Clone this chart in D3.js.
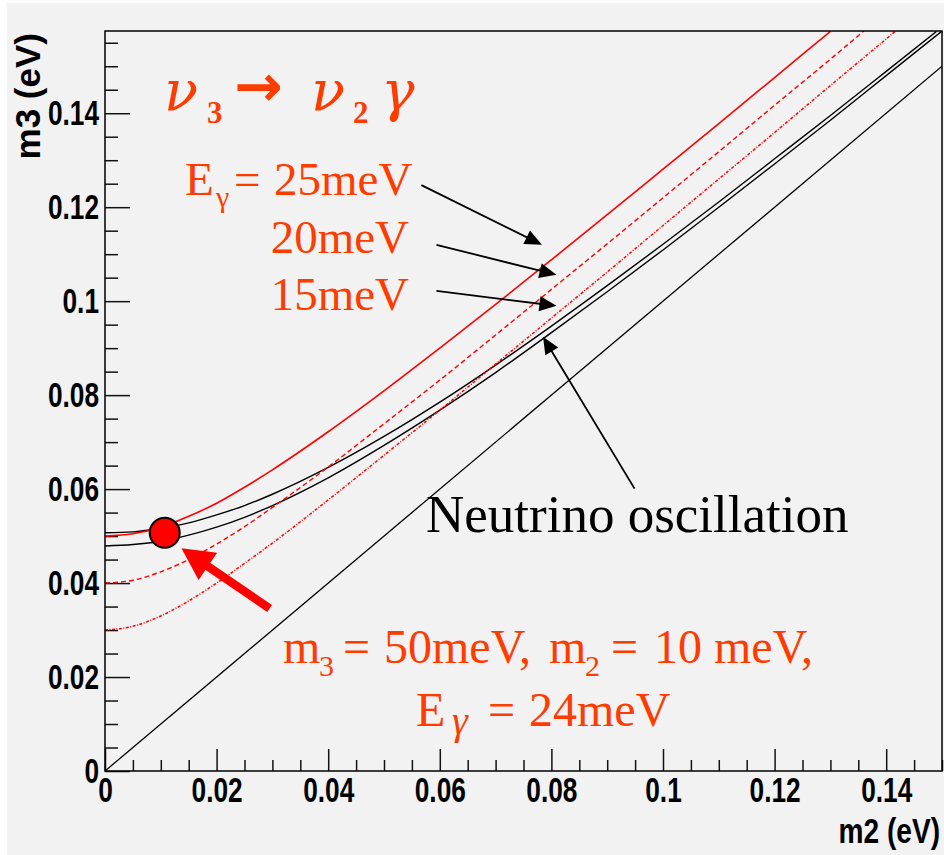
<!DOCTYPE html>
<html>
<head>
<meta charset="utf-8">
<script src="https://d3js.org/d3.v7.min.js"></script>
<style>
  body { margin: 0; background: #fff; }
  .axis .tick text { font-family: "Liberation Sans", Arial, sans-serif; font-weight: bold; font-size: 35px; fill: #000; }
  .axis .tick line { stroke: #111; stroke-width: 1.5; }
  .axis path.domain { display: none; }
  .note { font-family: "Liberation Serif", "Times New Roman", serif; }
</style>
</head>
<body>
<script>
var m2Grid = [0, 0.005, 0.01, 0.015, 0.02, 0.025, 0.03, 0.04, 0.05, 0.06, 0.07, 0.08, 0.09, 0.10, 0.11, 0.12, 0.13];

// nu3 -> nu2 gamma, E_gamma = 25, 20, 15 meV (m3 in eV)
var e25M3 = [0.0500, 0.0505, 0.0519, 0.0542, 0.0570, 0.0604, 0.0641, 0.0722, 0.0809, 0.0900, 0.0993, 0.1088, 0.1184, 0.1281, 0.1378, 0.1476, 0.1574];
var e20Tail = [0.136];
var e20M3 = [0.0400, 0.0406, 0.0424, 0.0450, 0.0483, 0.0520, 0.0561, 0.0647, 0.0739, 0.0832, 0.0928, 0.1025, 0.1122, 0.1220, 0.1318, 0.1417, 0.1515, 0.1575];
var e15Tail = [0.14, 0.1417];
var e15M3 = [0.0300, 0.0308, 0.0330, 0.0362, 0.0400, 0.0442, 0.0485, 0.0577, 0.0672, 0.0768, 0.0866, 0.0964, 0.1062, 0.1161, 0.1260, 0.1359, 0.1459, 0.1558, 0.1575];

// neutrino oscillation band (upper / lower edge)
var oscHiTail = [0.14, 0.149];
var oscHiM3 = [0.0507, 0.0509, 0.0517, 0.0528, 0.0545, 0.0565, 0.0589, 0.0646, 0.0712, 0.0785, 0.0864, 0.0947, 0.1033, 0.1121, 0.1211, 0.1303, 0.1395, 0.1489, 0.1574];
var oscLoTail = [0.14, 0.15];
var oscLoM3 = [0.0479, 0.0482, 0.0489, 0.0502, 0.0519, 0.0540, 0.0565, 0.0624, 0.0693, 0.0768, 0.0848, 0.0933, 0.1020, 0.1109, 0.1200, 0.1292, 0.1385, 0.1480, 0.1575];

// m3 = m2 line
var diagM2 = [0, 0.15];
var diagM3 = [0, 0.15];

// marked point
var pointM2 = 0.0107, pointM3 = 0.0507;

var xTicks = [0, 0.02, 0.04, 0.06, 0.08, 0.1, 0.12, 0.14];
var xTickLabels = ["0", "0.02", "0.04", "0.06", "0.08", "0.1", "0.12", "0.14"];
var yTicks = [0, 0.02, 0.04, 0.06, 0.08, 0.1, 0.12, 0.14];
var yTickLabels = ["0", "0.02", "0.04", "0.06", "0.08", "0.1", "0.12", "0.14"];

var W = 944, H = 855;
var frame = {left: 105, right: 942, top: 31, bottom: 771};
var squeeze = 0.75; // the axis text is narrow in the original

var x = d3.scaleLinear().domain([0, 0.15]).range([frame.left, frame.right]);
var y = d3.scaleLinear().domain([0, 0.1575]).range([frame.bottom, frame.top]);

var svg = d3.select("body").append("svg")
  .attr("width", W).attr("height", H);

svg.append("rect").attr("x", 7).attr("y", 3).attr("width", W - 7).attr("height", H - 3)
  .attr("fill", "#f2f2f2");

// minor ticks
var xMinor = d3.range(0, 0.1501, 0.005).filter(function(v) { return Math.abs(v / 0.02 - Math.round(v / 0.02)) > 1e-6; });
var yMinor = d3.range(0, 0.1575, 0.005).filter(function(v) { return Math.abs(v / 0.02 - Math.round(v / 0.02)) > 1e-6; });

svg.append("g").attr("class", "axis")
  .attr("transform", "translate(0," + frame.bottom + ")")
  .call(d3.axisBottom(x).tickValues(xMinor).tickFormat("").tickSize(-11));
svg.append("g").attr("class", "axis")
  .attr("transform", "translate(0," + frame.bottom + ")")
  .call(d3.axisBottom(x).tickValues(xTicks).tickFormat(function(d, i) { return xTickLabels[i]; }).tickSize(-22).tickPadding(6))
  .selectAll(".tick text").attr("transform", "scale(" + squeeze + ",1)");

svg.append("g").attr("class", "axis")
  .attr("transform", "translate(" + frame.left + ",0)")
  .call(d3.axisLeft(y).tickValues(yMinor).tickFormat("").tickSize(-13));
svg.append("g").attr("class", "axis")
  .attr("transform", "translate(" + frame.left + ",0)")
  .call(d3.axisLeft(y).tickValues(yTicks).tickFormat(function(d, i) { return yTickLabels[i]; }).tickSize(-25).tickPadding(8))
  .selectAll(".tick text").attr("transform", "scale(" + squeeze + ",1)");

// axis titles
svg.append("text")
  .attr("transform", "translate(40,33) rotate(-90)")
  .attr("text-anchor", "end")
  .style("font-family", "'Liberation Sans', Arial, sans-serif")
  .style("font-weight", "bold").style("font-size", "35px")
  .text("m3 (eV)");
svg.append("text")
  .attr("transform", "translate(940,843) scale(0.78,1)")
  .attr("text-anchor", "end")
  .style("font-family", "'Liberation Sans', Arial, sans-serif")
  .style("font-weight", "bold").style("font-size", "36px")
  .text("m2 (eV)");

// curves
svg.append("clipPath").attr("id", "clip").append("rect")
  .attr("x", frame.left).attr("y", frame.top)
  .attr("width", frame.right - frame.left).attr("height", frame.bottom - frame.top);

var line = d3.line().x(function(d) { return x(d[0]); }).y(function(d) { return y(d[1]); })
  .curve(d3.curveMonotoneX);

function pairs(m2s, m3s) { return m2s.map(function(v, i) { return [v, m3s[i]]; }); }

var curves = [
  {pts: pairs(diagM2, diagM3), color: "#000", width: 1.3, dash: null},
  {pts: pairs(m2Grid.concat(oscLoTail), oscLoM3), color: "#000", width: 1.4, dash: null},
  {pts: pairs(m2Grid.concat(oscHiTail), oscHiM3), color: "#000", width: 1.4, dash: null},
  {pts: pairs(m2Grid.concat(e15Tail), e15M3), color: "#ff0000", width: 1.5, dash: "3,1.5,1,1.5"},
  {pts: pairs(m2Grid.concat(e20Tail), e20M3), color: "#ff0000", width: 1.4, dash: "5,3"},
  {pts: pairs(m2Grid, e25M3), color: "#ff0000", width: 1.6, dash: null}
];

svg.append("g").attr("clip-path", "url(#clip)")
  .selectAll("path").data(curves).enter().append("path")
  .attr("d", function(d) { return line(d.pts); })
  .attr("fill", "none")
  .attr("stroke", function(d) { return d.color; })
  .attr("stroke-width", function(d) { return d.width; })
  .attr("stroke-dasharray", function(d) { return d.dash; });

// frame
svg.append("rect")
  .attr("x", frame.left).attr("y", frame.top)
  .attr("width", frame.right - frame.left).attr("height", frame.bottom - frame.top)
  .attr("fill", "none").attr("stroke", "#000").attr("stroke-width", 1.5);

// arrows (data units)
function arrow(a, len, half, width, color) {
  var x1 = x(a[0]), y1 = y(a[1]), x2 = x(a[2]), y2 = y(a[3]);
  var dx = x2 - x1, dy = y2 - y1, L = Math.sqrt(dx * dx + dy * dy);
  var ux = dx / L, uy = dy / L;
  var bx = x2 - ux * len, by = y2 - uy * len;
  svg.append("line").attr("x1", x1).attr("y1", y1).attr("x2", bx + ux * 2).attr("y2", by + uy * 2)
    .attr("stroke", color).attr("stroke-width", width);
  svg.append("path")
    .attr("d", "M" + x2 + "," + y2 + "L" + (bx - uy * half) + "," + (by + ux * half) +
      "L" + (bx + uy * half) + "," + (by - ux * half) + "Z")
    .attr("fill", color);
}

var blackArrows = [
  [0.0567, 0.1247, 0.0783, 0.1120],
  [0.0594, 0.1120, 0.0809, 0.1056],
  [0.0594, 0.1022, 0.0809, 0.0990],
  [0.0949, 0.0601, 0.0785, 0.0924]
];
blackArrows.forEach(function(a) { arrow(a, 17, 7.5, 1.8, "#000"); });

// marked point + red arrow
svg.append("circle")
  .attr("cx", x(pointM2)).attr("cy", y(pointM3)).attr("r", 15)
  .attr("fill", "#ff0000").attr("stroke", "#000").attr("stroke-width", 2);
arrow([0.0295, 0.0346, 0.0137, 0.0474], 32, 16.5, 8.5, "#ff0000");

// annotations
var orange = "#ff3c00";

var title = svg.append("text").attr("fill", orange);
title.append("tspan").attr("x", 164).attr("y", 110)
  .style("font-family", "'DejaVu Serif', serif").style("font-style", "italic").style("font-size", "56px").text("ν");
title.append("tspan").attr("x", 207).attr("y", 123)
  .style("font-family", "'Liberation Serif', serif").style("font-weight", "bold").style("font-size", "31px").text("3");
title.append("tspan").attr("x", 234).attr("y", 106)
  .style("font-family", "'DejaVu Sans', sans-serif").style("font-weight", "bold").style("font-size", "58px").text("→");
title.append("tspan").attr("x", 311).attr("y", 110)
  .style("font-family", "'DejaVu Serif', serif").style("font-style", "italic").style("font-size", "56px").text("ν");
title.append("tspan").attr("x", 353).attr("y", 123)
  .style("font-family", "'Liberation Serif', serif").style("font-weight", "bold").style("font-size", "31px").text("2");
title.append("tspan").attr("x", 381).attr("y", 110)
  .style("font-family", "'DejaVu Serif', serif").style("font-style", "italic").style("font-size", "56px").text("γ");

var eLab = svg.append("text").attr("class", "note").attr("fill", orange).style("font-size", "47px");
eLab.append("tspan").attr("x", 185).attr("y", 195).text("E");
eLab.append("tspan").attr("x", 216).attr("y", 207).style("font-size", "30px").text("γ");
eLab.append("tspan").attr("x", 234).attr("y", 195).text("=");
eLab.append("tspan").attr("x", 274).attr("y", 195).text("25meV");

svg.append("text").attr("class", "note").attr("fill", orange).style("font-size", "47px")
  .attr("x", 409).attr("y", 253).attr("text-anchor", "end").text("20meV");
svg.append("text").attr("class", "note").attr("fill", orange).style("font-size", "47px")
  .attr("x", 409).attr("y", 310).attr("text-anchor", "end").text("15meV");

svg.append("text").attr("class", "note").attr("fill", "#000").style("font-size", "53px")
  .attr("x", 426).attr("y", 532).text("Neutrino oscillation");

var l1 = svg.append("text").attr("class", "note").attr("fill", orange).style("font-size", "48px");
l1.append("tspan").attr("x", 283).attr("y", 663).text("m");
l1.append("tspan").attr("x", 319).attr("y", 676).style("font-size", "30px").text("3");
l1.append("tspan").attr("x", 343).attr("y", 663).text("=");
l1.append("tspan").attr("x", 384).attr("y", 663).text("50meV,");
l1.append("tspan").attr("x", 549).attr("y", 663).text("m");
l1.append("tspan").attr("x", 585).attr("y", 676).style("font-size", "30px").text("2");
l1.append("tspan").attr("x", 611).attr("y", 663).text("=");
l1.append("tspan").attr("x", 654).attr("y", 663).text("10 meV,");

var l2 = svg.append("text").attr("class", "note").attr("fill", orange).style("font-size", "48px");
l2.append("tspan").attr("x", 416).attr("y", 726).text("E");
l2.append("tspan").attr("x", 452).attr("y", 734).style("font-size", "40px").style("font-style", "italic").text("γ");
l2.append("tspan").attr("x", 488).attr("y", 726).text("=");
l2.append("tspan").attr("x", 529).attr("y", 726).text("24meV");
</script>
</body>
</html>
